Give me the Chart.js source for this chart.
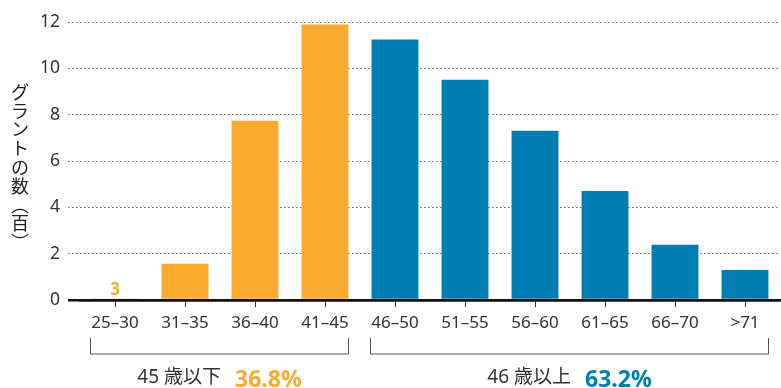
<!DOCTYPE html>
<html>
<head>
<meta charset="utf-8">
<script src="https://cdn.jsdelivr.net/npm/chart.js@4/dist/chart.umd.min.js"></script>
<style>
  html, body { margin: 0; padding: 0; background: #fff; }
  #wrap { width: 781px; height: 388px; }
</style>
</head>
<body>
<div id="wrap"><canvas id="c" width="781" height="388"></canvas></div>
<script>
// Age bands of grant holders and number of grants (in hundreds)
const ageBands = ['25–30', '31–35', '36–40', '41–45', '46–50', '51–55', '56–60', '61–65', '66–70', '>71'];
const grants = [0.03, 1.56, 7.74, 11.89, 11.24, 9.51, 7.31, 4.71, 2.38, 1.30];
const yTicks = [0, 2, 4, 6, 8, 10, 12];

// Two age groups bracketed under the axis
const groupNames = ['45 歳以下', '46 歳以上'];
const groupShares = ['36.8%', '63.2%'];
const groupFirst = [0, 4];
const groupLast = [3, 9];

const yTitleChars = ['グ', 'ラ', 'ン', 'ト', 'の', '数', '︵', '百', '︶'];

const ORANGE = '#FBAA30';
const BLUE = '#007EB1';
const groupColors = [ORANGE, BLUE];
const barColors = ageBands.map((_, i) => i <= groupLast[0] ? ORANGE : BLUE);

const FONT = "'Noto Sans', 'Noto Sans CJK JP', sans-serif";
Chart.defaults.font.family = FONT;

const decorations = {
  id: 'decorations',
  afterDatasetsDraw(chart) {
    const ctx = chart.ctx;
    const x = chart.scales.x;
    const y = chart.scales.y;
    const meta = chart.getDatasetMeta(0);
    ctx.save();

    // value labels for bars too short to read
    ctx.font = "bold 17px " + FONT;
    ctx.textAlign = 'center';
    ctx.textBaseline = 'alphabetic';
    grants.forEach((v, i) => {
      if (v < 0.5) {
        const bar = meta.data[i];
        ctx.fillStyle = barColors[i];
        ctx.fillText(String(Math.round(v * 100)), bar.x, y.getPixelForValue(v) - 4);
      }
    });

    // brackets and group captions
    const half = meta.data[0].width / 2;
    const top = x.top + 38;
    const bottom = x.top + 54;
    groupNames.forEach((name, g) => {
      const x0 = Math.round(x.getPixelForValue(groupFirst[g]) - half - 2) + 0.5;
      const x1 = Math.round(x.getPixelForValue(groupLast[g]) + half) + 0.5;
      ctx.strokeStyle = '#555';
      ctx.lineWidth = 1;
      ctx.beginPath();
      ctx.moveTo(x0, top);
      ctx.lineTo(x0, bottom);
      ctx.lineTo(x1, bottom);
      ctx.lineTo(x1, top);
      ctx.stroke();

      ctx.textAlign = 'left';
      ctx.font = "19px " + FONT;
      const w1 = ctx.measureText(name).width;
      ctx.font = "bold 23px " + FONT;
      const w2 = ctx.measureText(groupShares[g]).width;
      const gap = 14;
      const start = (x0 + x1) / 2 - (w1 + gap + w2) / 2;
      ctx.font = "19px " + FONT;
      ctx.fillStyle = '#333';
      ctx.fillText(name, start, x.top + 83);
      ctx.font = "bold 23px " + FONT;
      ctx.fillStyle = groupColors[g];
      ctx.fillText(groupShares[g], start + w1 + gap, x.top + 87);
    });

    // vertical axis title
    ctx.font = "18px 'Noto Sans CJK JP', sans-serif";
    ctx.fillStyle = '#222';
    ctx.textAlign = 'center';
    ctx.textBaseline = 'middle';
    yTitleChars.forEach((ch, i) => {
      ctx.fillText(ch, 20, 92 + i * 18.8);
    });
    ctx.restore();
  }
};

const isZero = c => c.tick && c.tick.value === 0;

new Chart(document.getElementById('c'), {
  type: 'bar',
  data: {
    labels: ageBands,
    datasets: [{
      data: grants,
      backgroundColor: barColors,
      borderWidth: 0,
      barPercentage: 0.67,
      categoryPercentage: 1.0
    }]
  },
  options: {
    responsive: false,
    animation: false,
    devicePixelRatio: 1,
    layout: { padding: { top: 22, right: 1, left: 0, bottom: 0 } },
    plugins: { legend: { display: false }, tooltip: { enabled: false } },
    scales: {
      x: {
        afterFit(s) { s.height = 88; },
        grid: {
          display: true,
          drawOnChartArea: false,
          drawTicks: true,
          offset: false,
          tickLength: 7,
          color: '#333',
          lineWidth: 1
        },
        border: { display: true, color: '#111', width: 2.5, z: 1 },
        ticks: {
          color: '#333',
          font: { size: 17 },
          padding: 6,
          maxRotation: 0,
          autoSkip: false
        }
      },
      y: {
        min: 0,
        max: 12,
        afterFit(s) { s.width = 80; },
        afterBuildTicks(s) { s.ticks = yTicks.map(v => ({ value: v })); },
        grid: {
          color: c => isZero(c) ? '#111' : '#666',
          lineWidth: c => isZero(c) ? 2.5 : 1,
          tickLength: 12,
          tickBorderDash: c => isZero(c) ? [] : [1.5, 2.5]
        },
        border: {
          display: false,
          dash: c => isZero(c) ? [] : [1.5, 2.5]
        },
        ticks: {
          color: '#333',
          font: { size: 17.5 },
          padding: 8
        }
      }
    }
  },
  plugins: [decorations]
});
</script>
</body>
</html>
